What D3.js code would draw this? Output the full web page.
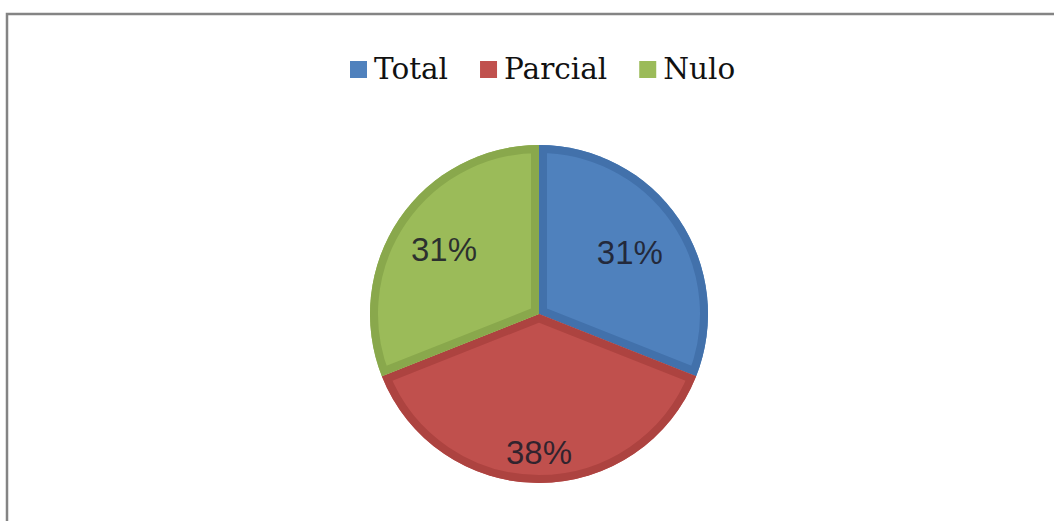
<!DOCTYPE html>
<html>
<head>
<meta charset="utf-8">
<script src="https://cdn.jsdelivr.net/npm/d3@7"></script>
<style>
  html, body { margin: 0; padding: 0; background: #fff; }
  svg { display: block; }
</style>
</head>
<body>
<svg id="chart" width="1054" height="521"></svg>
<script>
const categories = ["Total", "Parcial", "Nulo"];
const values = [31, 38, 31];
const labels = ["31%", "38%", "31%"];

const fillColors = ["#4f81bd", "#c0504d", "#9bbb59"];
const edgeColors = ["#4271ab", "#ad4340", "#89a84c"];
const labelRadiusFactor = [0.65, 0.82, 0.68];

const svg = d3.select("#chart");

// outer border (extends beyond the picture on right and bottom)
svg.append("rect")
  .attr("x", 7).attr("y", 14)
  .attr("width", 1200).attr("height", 700)
  .attr("fill", "#fff")
  .attr("stroke", "#848484").attr("stroke-width", 2.5);

const cx = 539, cy = 314, R = 169;

const pie = d3.pie().sort(null).value(d => d)(values);
const arc = d3.arc().innerRadius(0).outerRadius(R);

const g = svg.append("g").attr("transform", `translate(${cx},${cy})`);
const defs = svg.append("defs");

pie.forEach((p, i) => {
  const path = arc(p);
  defs.append("clipPath").attr("id", "clip" + i)
    .append("path").attr("d", path);
  g.append("path")
    .attr("d", path)
    .attr("fill", fillColors[i]);
  g.append("path")
    .attr("d", path)
    .attr("fill", "none")
    .attr("stroke", edgeColors[i])
    .attr("stroke-width", 16)
    .attr("stroke-linejoin", "miter")
    .attr("clip-path", `url(#clip${i})`);
});

// data labels
pie.forEach((p, i) => {
  const a = (p.startAngle + p.endAngle) / 2;
  const r = R * labelRadiusFactor[i];
  g.append("text")
    .attr("x", Math.sin(a) * r)
    .attr("y", -Math.cos(a) * r)
    .attr("text-anchor", "middle")
    .attr("dominant-baseline", "central")
    .attr("font-family", "'Liberation Sans', Arial, sans-serif")
    .attr("font-size", 33)
    .attr("fill", "#1d1d2a")
    .attr("fill-opacity", 0.88)
    .text(labels[i]);
});

// legend
const legend = svg.append("g");
const legendFont = "'DejaVu Serif', serif";
const legendSize = 29.5;
let x = 350;
const sq = 17, gapText = 7, gapItem = 32;
categories.forEach((c, i) => {
  legend.append("rect")
    .attr("x", x).attr("y", 61)
    .attr("width", sq).attr("height", sq)
    .attr("fill", fillColors[i]);
  const t = legend.append("text")
    .attr("x", x + sq + gapText).attr("y", 79)
    .attr("font-family", legendFont)
    .attr("font-size", legendSize)
    .attr("fill", "#111")
    .text(c);
  const w = t.node().getComputedTextLength();
  x += sq + gapText + w + gapItem;
});
</script>
</body>
</html>
